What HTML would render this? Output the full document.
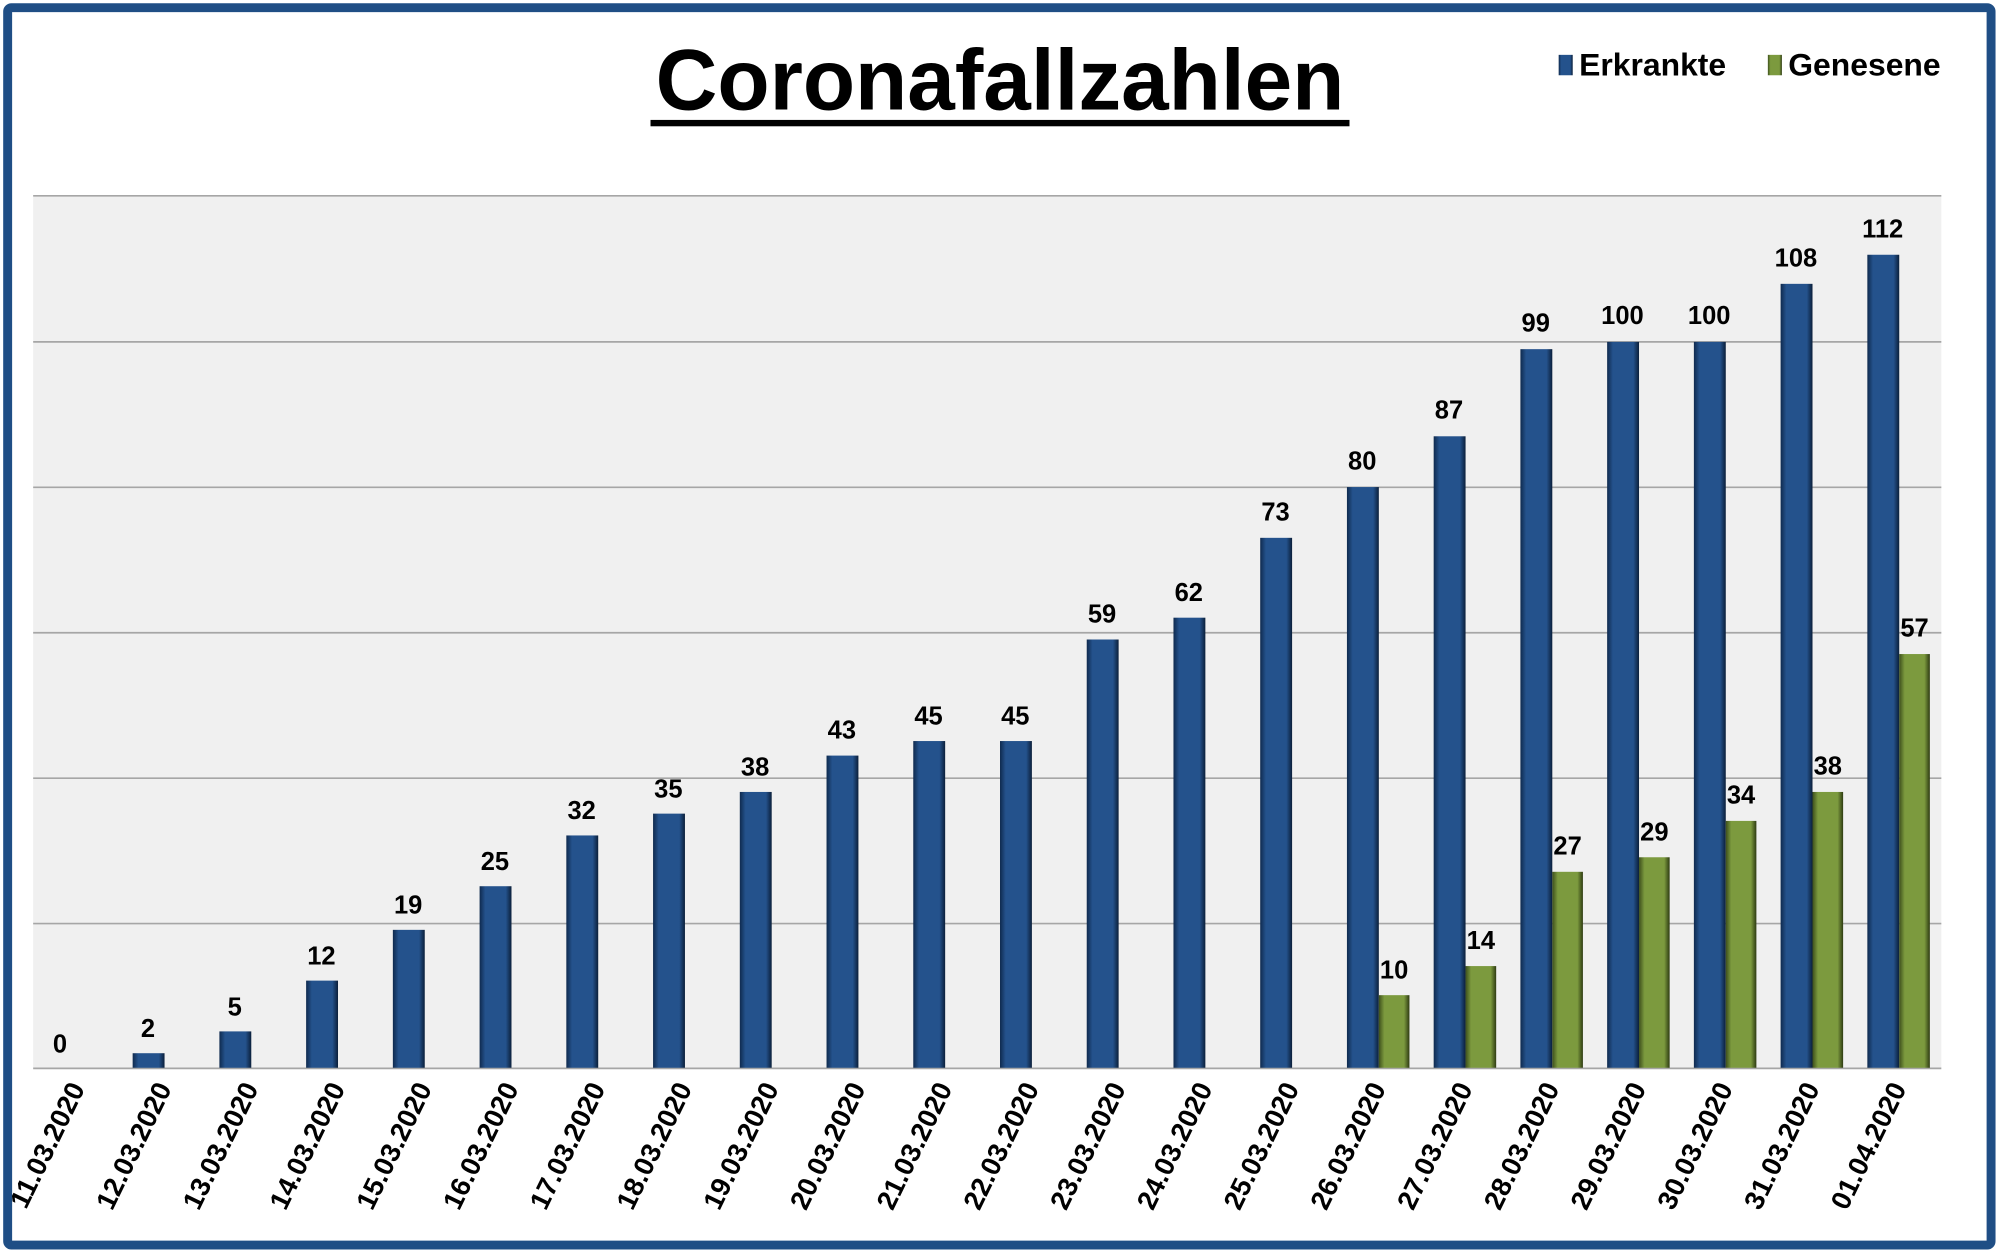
<!DOCTYPE html>
<html><head><meta charset="utf-8"><style>
html,body{margin:0;padding:0;background:#fff}
svg{display:block}
text{font-family:"Liberation Sans",Arial,sans-serif;font-weight:bold;fill:#000}
</style></head><body>
<svg width="2000" height="1254" viewBox="0 0 1568 983" preserveAspectRatio="none">
<defs>
<linearGradient id="gb" x1="0" x2="1" y1="0" y2="0">
<stop offset="0" stop-color="#0f2a4e"/><stop offset="0.18" stop-color="#24528c"/><stop offset="0.82" stop-color="#24528c"/><stop offset="1" stop-color="#0b1f3a"/></linearGradient>
<linearGradient id="gg" x1="0" x2="1" y1="0" y2="0">
<stop offset="0" stop-color="#3d4f1c"/><stop offset="0.18" stop-color="#7c9a3e"/><stop offset="0.82" stop-color="#7c9a3e"/><stop offset="1" stop-color="#2e3b12"/></linearGradient>
</defs>
<rect x="0" y="0" width="1568" height="983" fill="#fff"/>
<rect x="6" y="6" width="1555" height="970" rx="3" fill="#fff" stroke="#1f4e85" stroke-width="7"/>
<text x="784" y="86" font-size="68" text-anchor="middle" textLength="540" lengthAdjust="spacingAndGlyphs">Coronafallzahlen</text>
<rect x="510" y="94" width="548" height="5" fill="#000"/>
<rect x="1222" y="43" width="11" height="16" fill="url(#gb)"/>
<text x="1238" y="59" font-size="25">Erkrankte</text>
<rect x="1386" y="43" width="11" height="16" fill="url(#gg)"/>
<text x="1402" y="59" font-size="25">Genesene</text>
<rect x="26" y="153" width="1496" height="684" fill="#f0f0f0"/>
<g stroke="#a6a6a6" stroke-width="1.3">
<line x1="26" x2="1522" y1="153.5" y2="153.5"/>
<line x1="26" x2="1522" y1="268" y2="268"/>
<line x1="26" x2="1522" y1="382" y2="382"/>
<line x1="26" x2="1522" y1="496" y2="496"/>
<line x1="26" x2="1522" y1="610" y2="610"/>
<line x1="26" x2="1522" y1="724" y2="724"/>
<line x1="26" x2="1522" y1="837.5" y2="837.5"/>
</g>
<g fill="url(#gb)">
<rect x="104" y="825.6" width="25" height="11.4"/>
<rect x="172" y="808.5" width="25" height="28.5"/>
<rect x="240" y="768.7" width="25" height="68.3"/>
<rect x="308" y="728.9" width="25" height="108.1"/>
<rect x="376" y="694.7" width="25" height="142.3"/>
<rect x="444" y="654.9" width="25" height="182.1"/>
<rect x="512" y="637.8" width="25" height="199.2"/>
<rect x="580" y="620.8" width="25" height="216.2"/>
<rect x="648" y="592.3" width="25" height="244.7"/>
<rect x="716" y="580.9" width="25" height="256.1"/>
<rect x="784" y="580.9" width="25" height="256.1"/>
<rect x="852" y="501.3" width="25" height="335.7"/>
<rect x="920" y="484.2" width="25" height="352.8"/>
<rect x="988" y="421.6" width="25" height="415.4"/>
<rect x="1056" y="381.8" width="25" height="455.2"/>
<rect x="1124" y="342" width="25" height="495"/>
<rect x="1192" y="273.7" width="25" height="563.3"/>
<rect x="1260" y="268" width="25" height="569"/>
<rect x="1328" y="268" width="25" height="569"/>
<rect x="1396" y="222.5" width="25" height="614.5"/>
<rect x="1464" y="199.7" width="25" height="637.3"/>
</g>
<g fill="url(#gg)">
<rect x="1081" y="780.1" width="24" height="56.9"/>
<rect x="1149" y="757.3" width="24" height="79.7"/>
<rect x="1217" y="683.4" width="24" height="153.6"/>
<rect x="1285" y="672" width="24" height="165"/>
<rect x="1353" y="643.5" width="24" height="193.5"/>
<rect x="1421" y="620.8" width="24" height="216.2"/>
<rect x="1489" y="512.7" width="24" height="324.3"/>
</g>
<g font-size="20" text-anchor="middle">
<text x="47" y="825">0</text>
<text x="116" y="813">2</text>
<text x="184" y="796">5</text>
<text x="252" y="756">12</text>
<text x="320" y="716">19</text>
<text x="388" y="682">25</text>
<text x="456" y="642">32</text>
<text x="524" y="625">35</text>
<text x="592" y="608">38</text>
<text x="660" y="579">43</text>
<text x="728" y="568">45</text>
<text x="796" y="568">45</text>
<text x="864" y="488">59</text>
<text x="932" y="471">62</text>
<text x="1000" y="408">73</text>
<text x="1068" y="368">80</text>
<text x="1136" y="328">87</text>
<text x="1204" y="260">99</text>
<text x="1272" y="254">100</text>
<text x="1340" y="254">100</text>
<text x="1408" y="209">108</text>
<text x="1476" y="186">112</text>
<text x="1093" y="767">10</text>
<text x="1161" y="744">14</text>
<text x="1229" y="670">27</text>
<text x="1297" y="659">29</text>
<text x="1365" y="630">34</text>
<text x="1433" y="607">38</text>
<text x="1501" y="499">57</text>
</g>
<g font-size="21.5" text-anchor="end">
<text transform="translate(67,853) rotate(-64)">11.03.2020</text>
<text transform="translate(135,853) rotate(-64)">12.03.2020</text>
<text transform="translate(203,853) rotate(-64)">13.03.2020</text>
<text transform="translate(271,853) rotate(-64)">14.03.2020</text>
<text transform="translate(339,853) rotate(-64)">15.03.2020</text>
<text transform="translate(407,853) rotate(-64)">16.03.2020</text>
<text transform="translate(475,853) rotate(-64)">17.03.2020</text>
<text transform="translate(543,853) rotate(-64)">18.03.2020</text>
<text transform="translate(611,853) rotate(-64)">19.03.2020</text>
<text transform="translate(679,853) rotate(-64)">20.03.2020</text>
<text transform="translate(747,853) rotate(-64)">21.03.2020</text>
<text transform="translate(815,853) rotate(-64)">22.03.2020</text>
<text transform="translate(883,853) rotate(-64)">23.03.2020</text>
<text transform="translate(951,853) rotate(-64)">24.03.2020</text>
<text transform="translate(1019,853) rotate(-64)">25.03.2020</text>
<text transform="translate(1087,853) rotate(-64)">26.03.2020</text>
<text transform="translate(1155,853) rotate(-64)">27.03.2020</text>
<text transform="translate(1223,853) rotate(-64)">28.03.2020</text>
<text transform="translate(1291,853) rotate(-64)">29.03.2020</text>
<text transform="translate(1359,853) rotate(-64)">30.03.2020</text>
<text transform="translate(1427,853) rotate(-64)">31.03.2020</text>
<text transform="translate(1495,853) rotate(-64)">01.04.2020</text>
</g>
</svg>
</body></html>
